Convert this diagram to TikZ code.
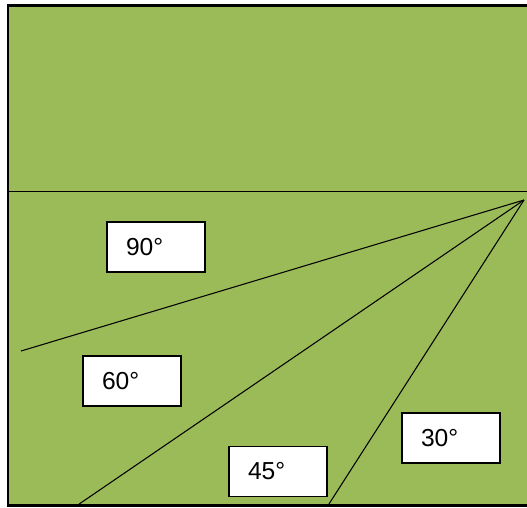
\documentclass[tikz,border=0pt]{standalone}
\usepackage{fontspec}
\setmainfont{Liberation Sans}
\usetikzlibrary{positioning}
\definecolor{field}{HTML}{9BBB59}

\begin{document}
\begin{tikzpicture}[x=0.02cm, y=-0.02cm,
      lbl/.style={draw=black, fill=white, line width=0.8pt, minimum width=1.96cm, minimum height=1cm,
                  inner xsep=0.38cm, text width=1.2cm, align=left, font=\fontsize{14}{16}\selectfont},
      ray/.style={black, line width=0.6pt}]
    \useasboundingbox (0,0) rectangle (527,507);
    \fill[field] (8,5.5) rectangle (527,505.5);
    \draw[line width=1.5pt] (527,5.5) -- (8,5.5) -- (8,505.5) -- (527,505.5);
    \coordinate (apex) at (524,200);
    \coordinate (w) at (8,191.5);
    \coordinate (e) at (527,191.5);
    \coordinate (r1) at (21,351);
    \coordinate (r2) at (77,505.5);
    \coordinate (r3) at (328,505.5);
    \draw[line width=0.8pt] (w) -- (e);
    \draw[ray] (apex) -- (r1); \draw[ray] (apex) -- (r2); \draw[ray] (apex) -- (r3);
    \node[lbl] (a90) at (156,247) {90°};
    \node[lbl] (a60) at (132,381) {60°};
    \node[lbl] (a45) at (278,471.5) {45°};
    \node[lbl] (a30) at (451,438) {30°};
  \end{tikzpicture}
\end{document}
